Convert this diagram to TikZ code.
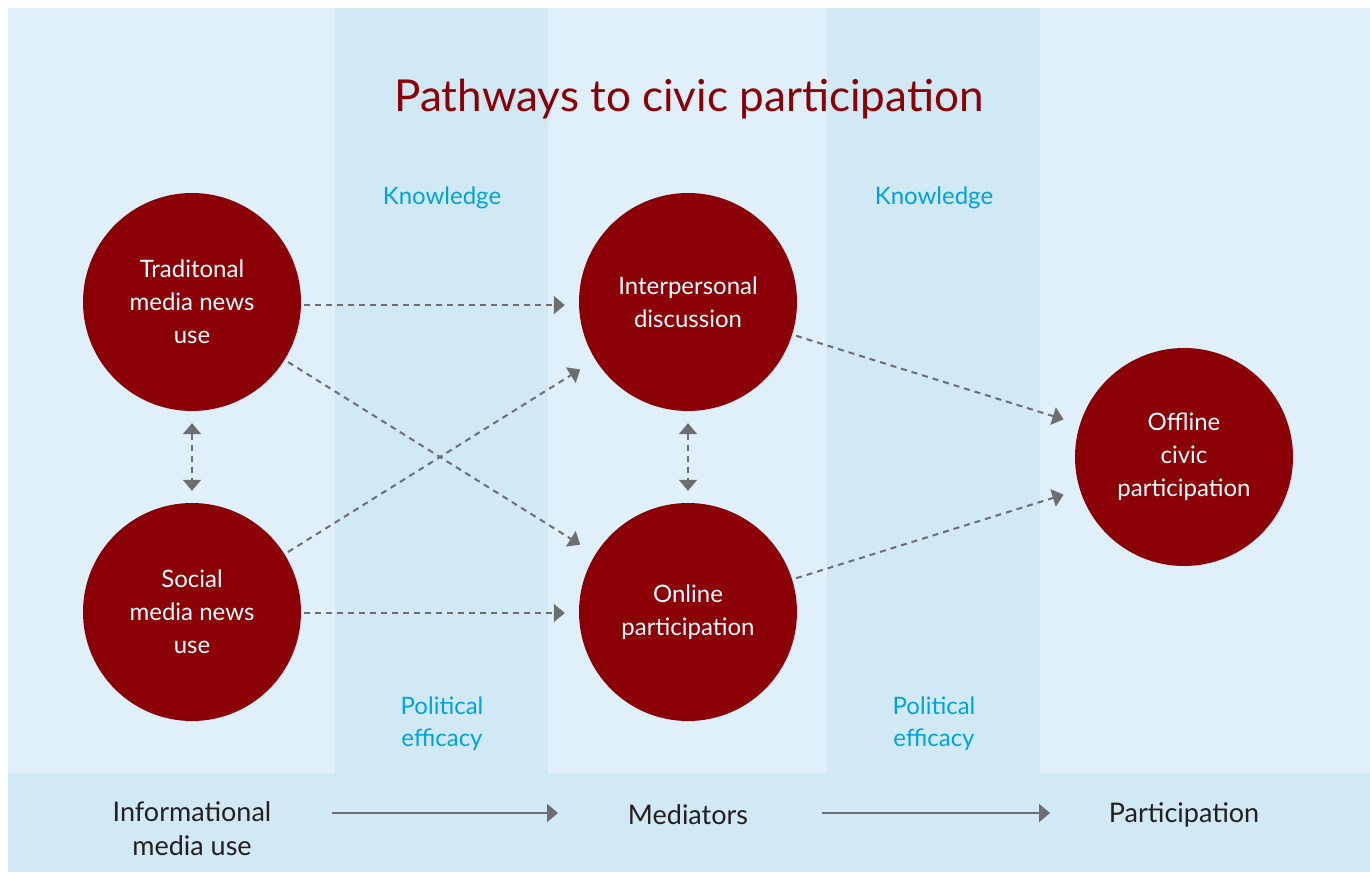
\documentclass[tikz,border=0pt]{standalone}
\usepackage{fontspec}
\setmainfont{Lato}
\usetikzlibrary{arrows.meta}
\definecolor{bgl}{HTML}{DFF0FA}
\definecolor{bgd}{HTML}{D1E8F5}
\definecolor{dred}{HTML}{8B0007}
\definecolor{arr}{HTML}{6D6E71}
\definecolor{kblue}{HTML}{00A3E0}
\definecolor{txt}{HTML}{231F20}
\begin{document}
\begin{tikzpicture}[x=1pt,y=-1pt,
  circ/.style={circle, fill=dred, minimum size=218pt, inner sep=0pt, text=white, align=center, font=\fontsize{24}{33}\selectfont},
  dasharr/.style={draw=arr, line width=2pt, dash pattern=on 6pt off 5pt, -{Triangle[length=11pt,width=18pt]}},
  dasharrb/.style={draw=arr, line width=2pt, dash pattern=on 6pt off 5pt, {Triangle[length=11pt,width=18pt]}-{Triangle[length=11pt,width=18pt]}},
  solidarr/.style={draw=arr, line width=2pt, -{Triangle[length=11pt,width=18pt]}},
  medlabel/.style={text=kblue, align=center, font=\fontsize{24}{32}\selectfont},
  steplabel/.style={text=txt, align=center, font=\fontsize{27}{34}\selectfont}
]
\useasboundingbox (0,0) rectangle (1370,872);
% background
\fill[bgl] (8,8) rectangle (1370,872);
\fill[bgd] (335,8) rectangle (548,773);
\fill[bgd] (827,8) rectangle (1040,773);
\fill[bgd] (8,773) rectangle (1370,872);

% title
\node[anchor=base, text=dred, font=\fontsize{44}{50}\selectfont] (title) at (689,112) {Pathways to civic participation};

% circles
\node[circ] (trad) at (192,302) {Traditonal\\media news\\use};
\node[circ] (social) at (192,612) {Social\\media news\\use};
\node[circ] (inter) at (688,302) {Interpersonal\\discussion};
\node[circ] (online) at (688,612) {Online\\participation};
\node[circ] (offline) at (1184,457) {Offline\\civic\\participation};

% mediator labels
\node[medlabel] (k1) at (442,198) {Knowledge};
\node[medlabel] (k2) at (934,198) {Knowledge};
\node[medlabel] (p1) at (442,724) {Political\\efficacy};
\node[medlabel] (p2) at (934,724) {Political\\efficacy};

% connectors
\draw[dasharr, shorten <=3pt, shorten >=14pt] ([yshift=-3pt]trad.east) -- ([yshift=-3pt]inter.west);
\draw[dasharr, shorten <=3pt, shorten >=14pt] ([yshift=-1pt]social.east) -- ([yshift=-1pt]online.west);
\draw[dasharr, shorten <=4pt, shorten >=18pt] (trad) -- (online);
\draw[dasharr, shorten <=4pt, shorten >=18pt] (social) -- (inter);
\draw[dasharr, shorten <=4pt, shorten >=17pt] (inter) -- (offline);
\draw[dasharr, shorten <=4pt, shorten >=17pt] (online) -- (offline);
\draw[dasharrb, shorten <=12pt, shorten >=12pt] (trad) -- (social);
\draw[dasharrb, shorten <=12pt, shorten >=12pt] (inter) -- (online);

% bottom band
\node[steplabel] (info) at (192,829) {Informational\\media use};
\node[steplabel] (med) at (688,815) {Mediators};
\node[steplabel] (part) at (1184,815) {Participation};
\coordinate (a1s) at (332,813);
\coordinate (a1e) at (558,813);
\coordinate (a2s) at (822,813);
\coordinate (a2e) at (1050,813);
\draw[solidarr] (a1s) -- (a1e);
\draw[solidarr] (a2s) -- (a2e);
\end{tikzpicture}
\end{document}
